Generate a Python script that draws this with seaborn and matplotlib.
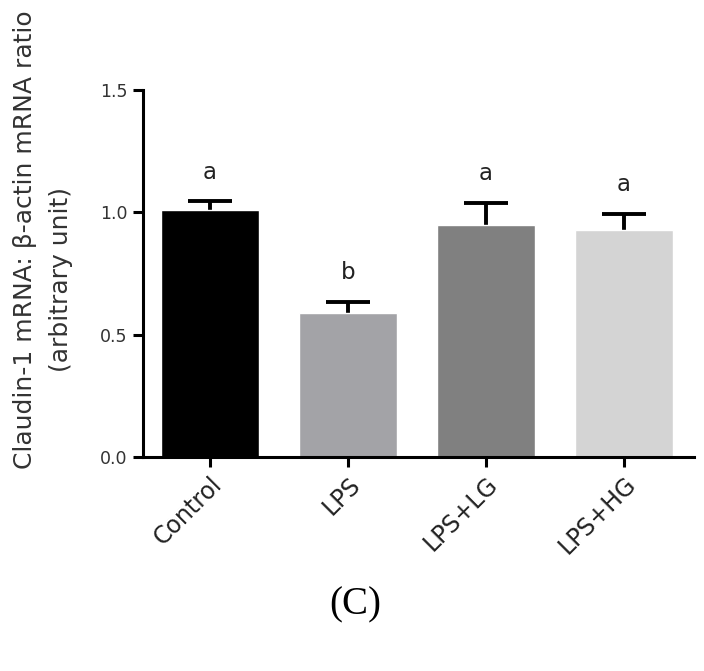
import matplotlib
matplotlib.use("Agg")
import matplotlib.pyplot as plt
import matplotlib.transforms as mtransforms
import seaborn as sns
import numpy as np

categories = ["Control", "LPS", "LPS+LG", "LPS+HG"]
values = [1.01, 0.59, 0.947, 0.926]
errors = [0.035, 0.045, 0.093, 0.068]
letters = ["a", "b", "a", "a"]
colors = ["#000000", "#A3A3A7", "#808080", "#D4D4D4"]
yticks = [0.0, 0.5, 1.0, 1.5]
ylabel1 = "Claudin-1 mRNA: β-actin mRNA ratio"
ylabel2 = "(arbitrary unit)"
panel = "(C)"

sns.set_theme(style="ticks")
plt.rcParams["font.family"] = ["DejaVu Sans"]

fig = plt.figure(figsize=(7.04, 6.71), dpi=100)
ax = fig.add_axes([143/704, 1-457/671, (694-143)/704, (457-90)/671])

sns.barplot(x=categories, y=values, hue=categories, palette=colors,
            width=0.71, saturation=1, legend=False, ax=ax, zorder=2)

pos = np.arange(len(categories))
# symmetric bars drawn beneath the bars: only the upper half shows
ax.errorbar(pos, values, yerr=errors, fmt="none",
            ecolor="black", elinewidth=2.8, capsize=16, capthick=2.8, zorder=1.5)

for p, v, e, l in zip(pos, values, errors, letters):
    ax.annotate(l, xy=(p, v + e), xytext=(0, 21), textcoords="offset points",
                ha="center", va="center", fontsize=16.5, color="#222222")

ax.set_ylim(0, 1.5)
ax.set_xlim(-0.486, 3.51)
ax.set_yticks(yticks)
ax.set_yticklabels([f"{t:.1f}" for t in yticks], fontsize=12.5, color="#333333")
ax.set_xticks(pos)
ax.set_xticklabels(categories, rotation=45, ha="right", rotation_mode="anchor",
                   fontsize=17, color="#222222")
shift = mtransforms.ScaledTranslation(-7/100, 0, fig.dpi_scale_trans)
for lab in ax.get_xticklabels():
    lab.set_transform(lab.get_transform() + shift)
ax.set_xlabel("")
ax.set_ylabel("")

for s in ["top", "right"]:
    ax.spines[s].set_visible(False)
for s in ["left", "bottom"]:
    ax.spines[s].set_linewidth(2.2)
    ax.spines[s].set_color("black")
ax.tick_params(axis="both", length=7, width=2.2, color="black", pad=4)

fig.text(25/704, 1-240/671, ylabel1, rotation=90, ha="center", va="center",
         fontsize=18, color="#333333")
fig.text(61/704, 1-280/671, ylabel2, rotation=90, ha="center", va="center",
         fontsize=18, color="#333333")
fig.text(355/704, 1-605/671, panel, ha="center", va="center", fontsize=28,
         family=["Liberation Serif", "DejaVu Serif"], color="black")

fig.savefig("out.png", dpi=100)
